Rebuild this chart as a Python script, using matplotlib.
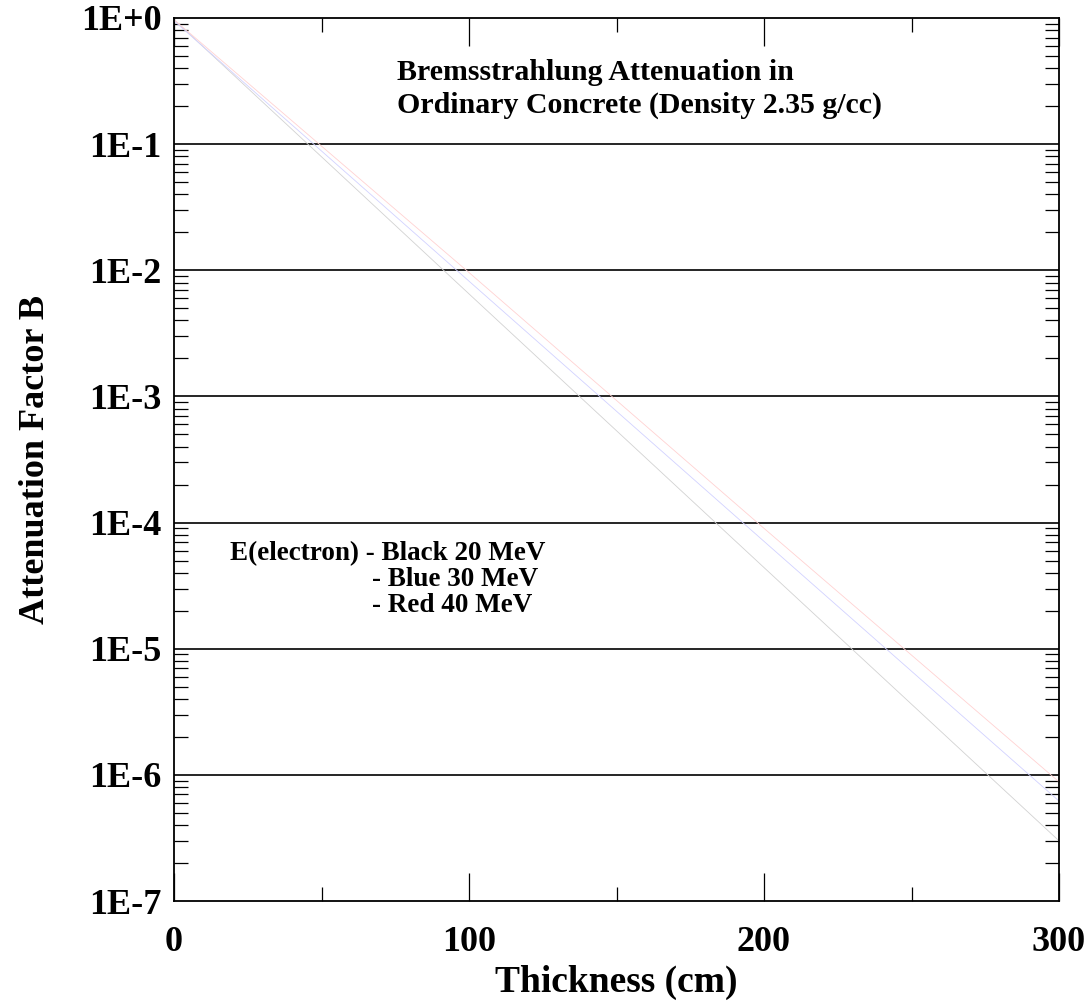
import matplotlib
matplotlib.use("Agg")
import matplotlib.pyplot as plt
from matplotlib.ticker import FixedLocator, LogLocator, NullFormatter

# Shield thickness (cm) and attenuation factor for each electron energy
thickness = [0, 100, 200, 300]
atten_20mev = [0.97, 6.5e-3, 4.4e-5, 3.0e-7]
atten_30mev = [0.95, 8.2e-3, 7.1e-5, 6.2e-7]
atten_40mev = [0.97, 9.6e-3, 9.0e-5, 8.8e-7]

x_major = [0, 100, 200, 300]
x_minor = [50, 150, 250]
y_decades = [1e-7, 1e-6, 1e-5, 1e-4, 1e-3, 1e-2, 1e-1, 1e0]
y_labels = ["1E-7", "1E-6", "1E-5", "1E-4", "1E-3", "1E-2", "1E-1", "1E+0"]

title_lines = ["Bremsstrahlung Attenuation in",
               "Ordinary Concrete (Density 2.35 g/cc)"]
legend_lines = ["E(electron) - Black 20 MeV", "- Blue 30 MeV", "- Red 40 MeV"]

plt.rcParams["font.family"] = ["Liberation Serif", "DejaVu Serif"]
plt.rcParams["font.weight"] = "bold"

fig = plt.figure(figsize=(10.9, 10.01), dpi=100)
ax = fig.add_axes([174 / 1090, 1 - 901 / 1001, 885 / 1090, 883 / 1001])

ax.plot(thickness, atten_20mev, color="#d2d2d2", lw=0.6)
ax.plot(thickness, atten_30mev, color="#d2d2ff", lw=0.6)
ax.plot(thickness, atten_40mev, color="#ffd2d2", lw=0.6)

ax.set_yscale("log")
ax.set_xlim(0, 300)
ax.set_ylim(1e-7, 1e0)

# decade grid lines
for y in y_decades[1:-1]:
    ax.axhline(y, color="black", lw=1.2, zorder=1)

ax.xaxis.set_major_locator(FixedLocator(x_major))
ax.xaxis.set_minor_locator(FixedLocator(x_minor))
ax.set_xticklabels([str(v) for v in x_major])
ax.yaxis.set_major_locator(FixedLocator(y_decades))
ax.set_yticklabels(y_labels)
ax.yaxis.set_minor_locator(LogLocator(base=10, subs=range(2, 10)))
ax.yaxis.set_minor_formatter(NullFormatter())

ax.tick_params(axis="x", which="major", direction="in", length=20, width=0.9,
               top=True, bottom=True, labelsize=26, pad=18)
ax.tick_params(axis="x", which="minor", direction="in", length=10, width=0.9,
               top=True, bottom=True)
ax.tick_params(axis="y", which="major", direction="in", length=0,
               left=True, right=True, labelsize=26, pad=9)
ax.tick_params(axis="y", which="minor", direction="in", length=10, width=0.9,
               left=True, right=True)
for lbl in ax.get_xticklabels() + ax.get_yticklabels():
    lbl.set_fontweight("bold")

for s in ax.spines.values():
    s.set_linewidth(1.3)

ax.set_xlabel("Thickness (cm)", fontsize=27, fontweight="bold", labelpad=4)
ax.set_ylabel("Attenuation Factor B", fontsize=26, fontweight="bold", labelpad=21)

# title block inside the axes
fig.text(397 / 1090, 1 - 73 / 1001, title_lines[0], fontsize=21.5,
         fontweight="bold", ha="left", va="center")
fig.text(397 / 1090, 1 - 105 / 1001, title_lines[1], fontsize=21.5,
         fontweight="bold", ha="left", va="center")

# energy key
fig.text(230 / 1090, 1 - 554 / 1001, legend_lines[0], fontsize=19.5,
         fontweight="bold", ha="left", va="center")
fig.text(372 / 1090, 1 - 580 / 1001, legend_lines[1], fontsize=19.5,
         fontweight="bold", ha="left", va="center")
fig.text(372 / 1090, 1 - 606 / 1001, legend_lines[2], fontsize=19.5,
         fontweight="bold", ha="left", va="center")

fig.savefig("out.png", dpi=100, facecolor="white")
